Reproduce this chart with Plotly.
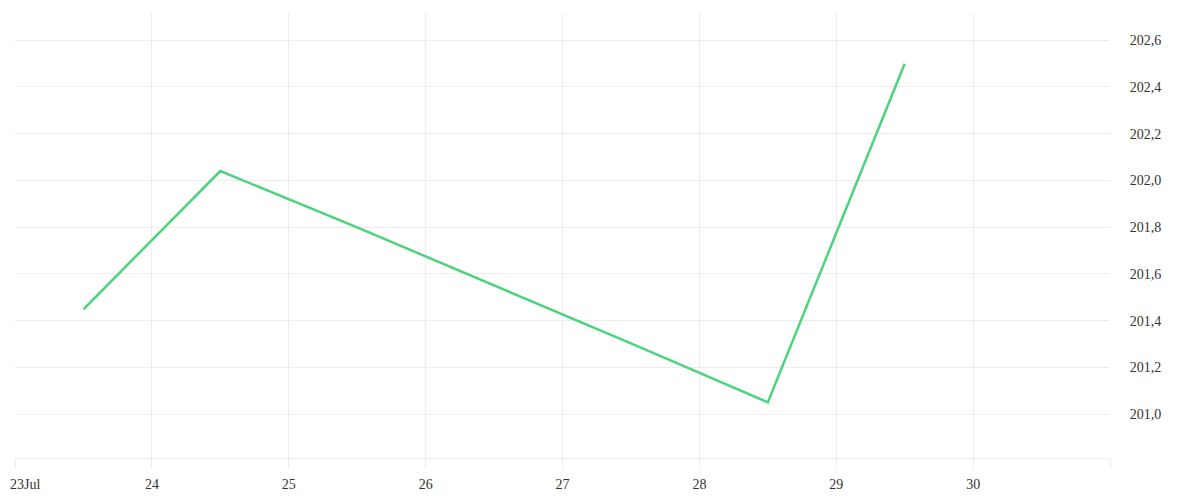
import plotly.graph_objects as go

# daily readings (plotted at midday)
dates = ["2024-07-23 12:00", "2024-07-24 12:00", "2024-07-25 12:00", "2024-07-26 12:00",
         "2024-07-27 12:00", "2024-07-28 12:00", "2024-07-29 12:00"]
values = [201.449, 202.040, 201.799, 201.552, 201.303, 201.051, 202.499]

tick_days = ["2024-07-23", "2024-07-24", "2024-07-25", "2024-07-26", "2024-07-27",
             "2024-07-28", "2024-07-29", "2024-07-30", "2024-07-31"]
tick_labels = ["", "24", "25", "26", "27", "28", "29", "30", ""]
first_label = "23Jul"  # drawn separately so it is not clipped at the left edge
y_ticks = [201.0, 201.2, 201.4, 201.6, 201.8, 202.0, 202.2, 202.4, 202.6]

grid = "#ededed"
font = dict(family="Liberation Serif", size=14, color="#333333")

fig = go.Figure(go.Scatter(
    x=dates, y=values, mode="lines",
    line=dict(color="#4cd37b", width=2.5),
    hoverinfo="x+y",
))

# page body has an 8px margin, so the plot box is offset accordingly
fig.update_layout(
    width=1200, height=500,
    margin=dict(l=7, r=98, t=5, b=50, autoexpand=False),
    plot_bgcolor="white", paper_bgcolor="white",
    showlegend=False,
    separators=",.",
    font=font,
)
fig.update_xaxes(
    range=["2024-07-23", "2024-07-31"],
    tickvals=tick_days, ticktext=tick_labels,
    showgrid=True, gridcolor=grid, gridwidth=1,
    ticks="outside", ticklen=10, tickcolor=grid, ticklabelstandoff=3,
    showline=True, linecolor=grid, linewidth=1,
    zeroline=False, automargin=False,
)
fig.update_yaxes(
    side="right", range=[200.813, 202.716],
    tickvals=y_ticks, tickformat=".1f",
    showgrid=True, gridcolor=grid, gridwidth=1,
    ticks="outside", ticklen=16, tickcolor="rgba(0,0,0,0)",
    showline=False, zeroline=False, automargin=False,
)
fig.add_annotation(
    text=first_label, xref="paper", yref="paper",
    x=-7 / 1095, y=0, xanchor="left", yanchor="middle", yshift=-26,
    showarrow=False, font=font,
)

fig.write_html("out.html")
